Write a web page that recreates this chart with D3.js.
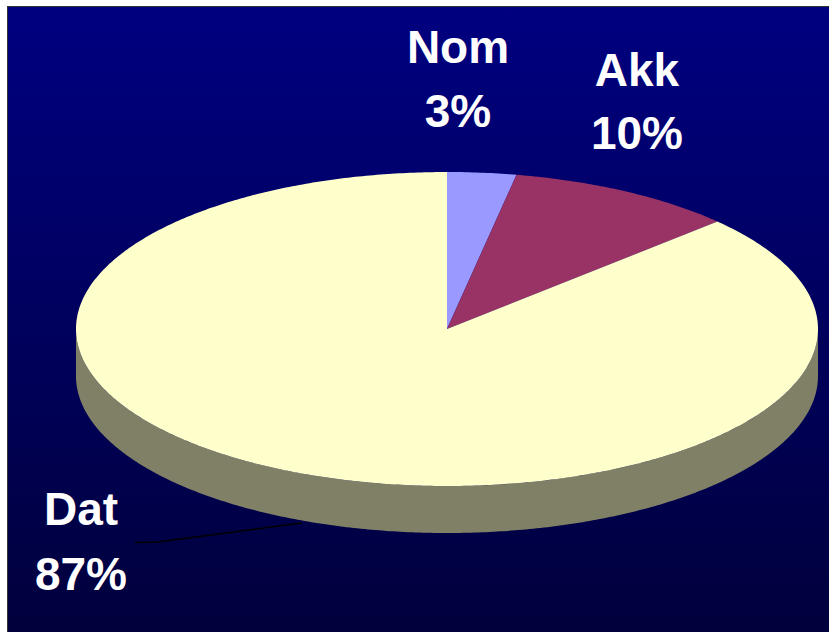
<!DOCTYPE html>
<html>
<head>
<meta charset="utf-8">
<script src="https://cdn.jsdelivr.net/npm/d3@7"></script>
<style>
html,body{margin:0;padding:0;background:#fff;}
svg{display:block;}
</style>
</head>
<body>
<svg id="chart" width="829" height="632"></svg>
<script>
const categories = ["Nom", "Akk", "Dat"];
const values = [3, 10, 87];
const pctLabels = ["3%", "10%", "87%"];
const topColors = ["#9999FF", "#993366", "#FFFFCC"];
const sideColors = ["#5c5c99", "#5c1f3d", "#808066"];

const W = 829, H = 632;
const svg = d3.select("#chart");

// background gradient
const defs = svg.append("defs");
const grad = defs.append("linearGradient").attr("id", "bg").attr("x1", 0).attr("y1", 0).attr("x2", 0).attr("y2", 1);
grad.append("stop").attr("offset", "0%").attr("stop-color", "#000080");
grad.append("stop").attr("offset", "100%").attr("stop-color", "#00003c");

svg.append("rect").attr("x", 7).attr("y", 6).attr("width", W - 7).attr("height", H - 6).attr("fill", "#333");
svg.append("rect").attr("x", 8).attr("y", 7).attr("width", W - 8).attr("height", H - 7).attr("fill", "url(#bg)");

// 3D pie geometry
const cx = 447, cy = 329, rx = 371, ry = 157, depth = 47;
const pie = d3.pie().sort(null).value(d => d).startAngle(0).endAngle(2 * Math.PI);
const arcs = pie(values);

const px = a => cx + rx * Math.sin(a);
const py = a => cy - ry * Math.cos(a);

function topPath(a0, a1) {
  const n = Math.max(2, Math.ceil((a1 - a0) / 0.01));
  const p = d3.path();
  p.moveTo(cx, cy);
  for (let i = 0; i <= n; i++) {
    const a = a0 + (a1 - a0) * i / n;
    p.lineTo(px(a), py(a));
  }
  p.closePath();
  return p.toString();
}

function sidePath(a0, a1) {
  // visible front half: angles between PI/2 and 3PI/2
  const s = Math.max(a0, Math.PI / 2), e = Math.min(a1, 3 * Math.PI / 2);
  if (e <= s) return null;
  const n = Math.max(2, Math.ceil((e - s) / 0.01));
  const p = d3.path();
  for (let i = 0; i <= n; i++) {
    const a = s + (e - s) * i / n;
    if (i === 0) p.moveTo(px(a), py(a)); else p.lineTo(px(a), py(a));
  }
  for (let i = n; i >= 0; i--) {
    const a = s + (e - s) * i / n;
    p.lineTo(px(a), py(a) + depth);
  }
  p.closePath();
  return p.toString();
}

const g = svg.append("g");
arcs.forEach((d, i) => {
  const sp = sidePath(d.startAngle, d.endAngle);
  if (sp) g.append("path").attr("d", sp).attr("fill", sideColors[i]);
});
arcs.forEach((d, i) => {
  g.append("path").attr("d", topPath(d.startAngle, d.endAngle)).attr("fill", topColors[i]);
});

// leader line for Dat
svg.append("path")
  .attr("d", "M135,542.5 L158,542 L302,523")
  .attr("fill", "none").attr("stroke", "#000").attr("stroke-width", 1.5);

// labels
const labelPos = [
  {x: 458, y1: 63, y2: 127},
  {x: 637, y1: 86, y2: 149},
  {x: 81, y1: 525, y2: 590}
];
categories.forEach((c, i) => {
  const t = svg.append("text")
    .attr("text-anchor", "middle")
    .attr("font-family", "Liberation Sans, Arial, sans-serif")
    .attr("font-weight", "bold")
    .attr("font-size", 46)
    .attr("fill", "#fff");
  t.append("tspan").attr("x", labelPos[i].x).attr("y", labelPos[i].y1).text(c);
  t.append("tspan").attr("x", labelPos[i].x).attr("y", labelPos[i].y2).text(pctLabels[i]);
});
</script>
</body>
</html>
